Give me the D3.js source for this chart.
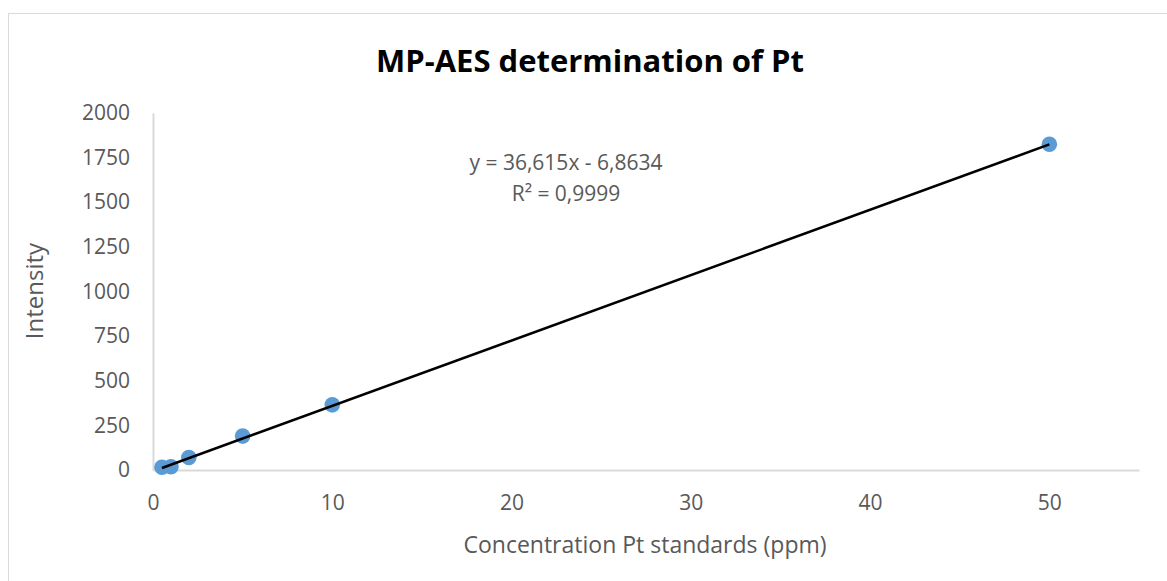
<!DOCTYPE html>
<html>
<head>
<meta charset="utf-8">
<script src="https://cdn.jsdelivr.net/npm/d3@7"></script>
<style>
  html, body { margin: 0; padding: 0; background: #fff; }
  svg { display: block; }
</style>
</head>
<body>
<svg id="chart" width="1167" height="581"></svg>
<script>
const concentrations = [0.5, 1, 2, 5, 10, 50];
const intensities = [15, 18, 70, 190, 365, 1825];
const xTicks = [0, 10, 20, 30, 40, 50];
const yTicks = [0, 250, 500, 750, 1000, 1250, 1500, 1750, 2000];
const slope = 36.615;
const intercept = -6.8634;
const titleText = "MP-AES determination of Pt";
const xTitle = "Concentration Pt standards (ppm)";
const yTitle = "Intensity";
const eqLines = ["y = 36,615x - 6,8634", "R² = 0,9999"];

const W = 1167, H = 581;
const margin = { left: 153, right: 1139, top: 113, bottom: 470 };
const font = "'Open Sans', 'Liberation Sans', sans-serif";
const labelColor = "#595959";

const svg = d3.select("#chart");

// chart border
svg.append("rect")
  .attr("x", 8.5).attr("y", 13.5)
  .attr("width", W + 20).attr("height", H + 20)
  .attr("fill", "#fff").attr("stroke", "#d9d9d9").attr("stroke-width", 1);

const x = d3.scaleLinear().domain([0, 55]).range([margin.left, margin.right]);
const y = d3.scaleLinear().domain([0, 2000]).range([margin.bottom, margin.top]);

// x axis
const xAxis = svg.append("g")
  .attr("transform", `translate(0,${margin.bottom})`)
  .call(d3.axisBottom(x).tickValues(xTicks).tickFormat(d3.format("d")).tickSize(0).tickPadding(25));
xAxis.select(".domain").attr("stroke", "#d9d9d9").attr("stroke-width", 2);
xAxis.selectAll("text").attr("font-family", font).attr("font-size", 21).attr("fill", labelColor);

// y axis
const yAxis = svg.append("g")
  .attr("transform", `translate(${margin.left},0)`)
  .call(d3.axisLeft(y).tickValues(yTicks).tickFormat(d3.format("d")).tickSize(0).tickPadding(23));
yAxis.select(".domain").attr("stroke", "#d9d9d9").attr("stroke-width", 2);
yAxis.selectAll("text").attr("font-family", font).attr("font-size", 21).attr("fill", labelColor);

// points
svg.append("g").selectAll("circle")
  .data(concentrations.map((c, i) => ({ c, v: intensities[i] })))
  .join("circle")
  .attr("cx", d => x(d.c))
  .attr("cy", d => y(d.v))
  .attr("r", 7.8)
  .attr("fill", "#5b9bd5");

// trend line
const xmin = d3.min(concentrations), xmax = d3.max(concentrations);
svg.append("line")
  .attr("x1", x(xmin)).attr("y1", y(slope * xmin + intercept))
  .attr("x2", x(xmax)).attr("y2", y(slope * xmax + intercept))
  .attr("stroke", "#000").attr("stroke-width", 2.5);

// equation
svg.append("g").selectAll("text")
  .data(eqLines)
  .join("text")
  .attr("x", 566)
  .attr("y", (d, i) => 170 + i * 31)
  .attr("text-anchor", "middle")
  .attr("font-family", font).attr("font-size", 21)
  .attr("fill", labelColor)
  .text(d => d);

// title
svg.append("text")
  .attr("x", 590).attr("y", 72)
  .attr("text-anchor", "middle")
  .attr("font-family", font).attr("font-size", 31).attr("font-weight", "bold")
  .attr("fill", "#000")
  .text(titleText);

// axis titles
svg.append("text")
  .attr("x", 645).attr("y", 553)
  .attr("text-anchor", "middle")
  .attr("font-family", font).attr("font-size", 23)
  .attr("fill", labelColor)
  .text(xTitle);

svg.append("text")
  .attr("transform", "translate(43,291) rotate(-90)")
  .attr("text-anchor", "middle")
  .attr("font-family", font).attr("font-size", 24)
  .attr("fill", labelColor)
  .text(yTitle);
</script>
</body>
</html>
